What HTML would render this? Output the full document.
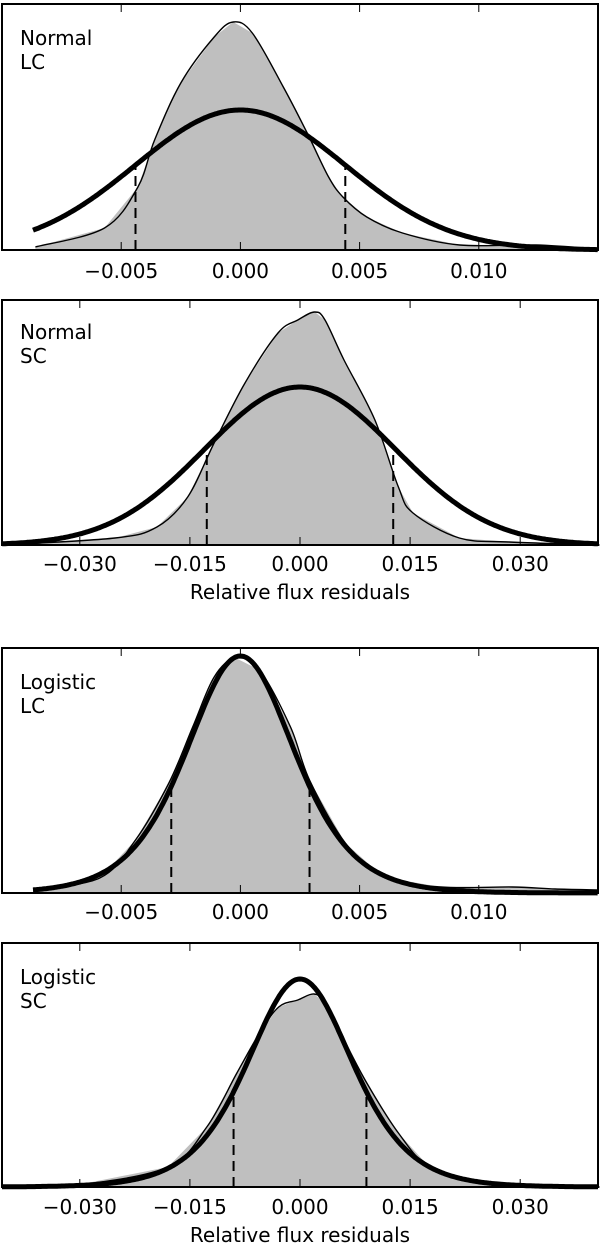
<!DOCTYPE html>
<html><head><meta charset="utf-8">
<style>
html,body{margin:0;padding:0;background:#fff;}
svg{display:block;font-family:"DejaVu Sans","Liberation Sans",sans-serif;}
</style></head>
<body>
<svg id="fig" width="600" height="1244" viewBox="0 0 600 1244"></svg>
<script>
// x values in units of 1e-3 relative flux; heights in density units (arbitrary)
const p1X=[-8.6,-5.7,-4.3,-3.6,-2.5,-1.1,-0.3,0.5,1.8,2.8,3.7,4.3,5.3,6.8,9.2,12.4,15.0];
const p1Y=[3,22,63,110,167,213,228,217,163,117,73,53,33,17,5,5,1];
const p2X=[-40.6,-25.2,-19.5,-15.3,-11.7,-7.5,-3.0,-0.3,2.0,3.4,6.0,10.2,13.4,15.4,21.7,28.5,40.8];
const p2Y=[0,7,18,48,102,162,212,225,233,225,185,125,58,32,7,3,0];
const p3X=[-8.7,-5.9,-4.4,-3.0,-2.0,-1.1,-0.2,0.8,2.1,2.9,4.4,6.0,8.4,11.4,13.2,15.0];
const p3Y=[4,15,53,110,166,216,235,223,166,113,50,16,6,6,4,3];
const p4X=[-40.6,-30.4,-18,-12.7,-8.6,-5.5,-2.9,-0.3,1.9,3.4,6.0,9.1,13.4,17.6,24.3,32.2,40.8];
const p4Y=[0,2,20,60,114,154,180,187,193,184,147,104,54,20,4,1,0];
const fitKind=["normal","normal","logistic","logistic"];
const fitAmp=[140,158,237,208];
const fitMu=[0,0,0,0];
const fitScale=[4.4,13,1.52,4.8];
const dashPos=[4.4,12.7,2.9,9.05];
const fitStart=[-8.7,-40.6,-8.7,-40.6];
const ticks1=[-5,0,5,10];
const tickLabels1=["\u22120.005","0.000","0.005","0.010"];
const ticks2=[-30,-15,0,15,30];
const tickLabels2=["\u22120.030","\u22120.015","0.000","0.015","0.030"];
const titles=[["Normal","LC"],["Normal","SC"],["Logistic","LC"],["Logistic","SC"]];

const NS="http://www.w3.org/2000/svg";
const fig=document.getElementById('fig');
function mk(tag,attrs,parent){const e=document.createElementNS(NS,tag);for(const k in attrs)e.setAttribute(k,attrs[k]);(parent||fig).appendChild(e);return e;}

const panels=[
 {top:4,bot:250,xmin:-10,xmax:15,X:p1X,Y:p1Y,ticks:ticks1,labels:tickLabels1,tb:45,lb:278,xl:null},
 {top:300,bot:545,xmin:-40.6,xmax:40.6,X:p2X,Y:p2Y,ticks:ticks2,labels:tickLabels2,tb:339,lb:571,xl:599},
 {top:648,bot:893,xmin:-10,xmax:15,X:p3X,Y:p3Y,ticks:ticks1,labels:tickLabels1,tb:689,lb:919,xl:null},
 {top:943,bot:1187,xmin:-40.6,xmax:40.6,X:p4X,Y:p4Y,ticks:ticks2,labels:tickLabels2,tb:984,lb:1214,xl:1242}
];
const L=2,R=598;
panels.forEach((p,i)=>{
  const g=mk('g',{});
  
  
  const sx=v=>L+(v-p.xmin)/(p.xmax-p.xmin)*(R-L);
  const sy=h=>p.bot-h;
  const fit=v=>{const z=(v-fitMu[i])/fitScale[i];
    if(fitKind[i]==="normal")return fitAmp[i]*Math.exp(-0.5*z*z);
    const c=Math.cosh(z/2);return fitAmp[i]/(c*c);};
  let d='M'+sx(p.X[0])+','+p.bot;
  p.X.forEach((x,k)=>{d+=' L'+sx(x).toFixed(1)+','+sy(p.Y[k]).toFixed(1);});
  d+=' L'+sx(p.X[p.X.length-1])+','+p.bot+' Z';
  const area=mk('path',{d:d,fill:'#bfbfbf',stroke:'none'},g);
  
  
  const pts=p.X.map((x,k)=>[sx(x),sy(p.Y[k])]);
  let od='M'+pts[0][0]+','+pts[0][1];
  for(let k=0;k<pts.length-1;k++){const p0=pts[Math.max(0,k-1)],p1=pts[k],p2=pts[k+1],p3=pts[Math.min(pts.length-1,k+2)];
    od+=' C'+(p1[0]+(p2[0]-p0[0])/6).toFixed(1)+','+(p1[1]+(p2[1]-p0[1])/6).toFixed(1)+' '+(p2[0]-(p3[0]-p1[0])/6).toFixed(1)+','+(p2[1]-(p3[1]-p1[1])/6).toFixed(1)+' '+p2[0].toFixed(1)+','+p2[1].toFixed(1);}
  const ol=mk('path',{d:od,fill:'none',stroke:'#000','stroke-width':1.4},g);
  
  
  let fd='';
  for(let v=fitStart[i],n=0;v<=p.xmax+1e-9;v+=(p.xmax-p.xmin)/400,n++){fd+=(n?' L':'M')+sx(v).toFixed(1)+','+sy(fit(v)).toFixed(1);}
  const fl=mk('path',{d:fd,fill:'none',stroke:'#000','stroke-width':5,'stroke-linejoin':'round'},g);
  
  
  [-dashPos[i],dashPos[i]].forEach(v=>{
    const dl=mk('line',{x1:sx(v),x2:sx(v),y1:p.bot,y2:sy(fit(v)),stroke:'#000','stroke-width':2,'stroke-dasharray':'10,6'},g);
    
    
  });
  p.ticks.forEach((t,k)=>{
    mk('line',{x1:sx(t),x2:sx(t),y1:p.top,y2:p.top+8,stroke:'#000','stroke-width':1},g);
    mk('line',{x1:sx(t),x2:sx(t),y1:p.bot,y2:p.bot-8,stroke:'#000','stroke-width':1},g);
    const tl=mk('text',{x:sx(t),y:p.lb,'text-anchor':'middle','font-size':20},g);
    tl.textContent=p.labels[k];
    
    
  });
  const fr=mk('rect',{x:L,y:p.top,width:R-L,height:p.bot-p.top,fill:'none',stroke:'#000','stroke-width':2},g);
  
  
  titles[i].forEach((s,k)=>{
    const t=mk('text',{x:20,y:p.tb+k*24,'font-size':20},g);
    t.textContent=s;
    
    
  });
  if(p.xl){
    const xl=mk('text',{x:300,y:p.xl,'text-anchor':'middle','font-size':20},g);
    xl.textContent='Relative flux residuals';
    
    
  }
});
</script>
</body></html>
